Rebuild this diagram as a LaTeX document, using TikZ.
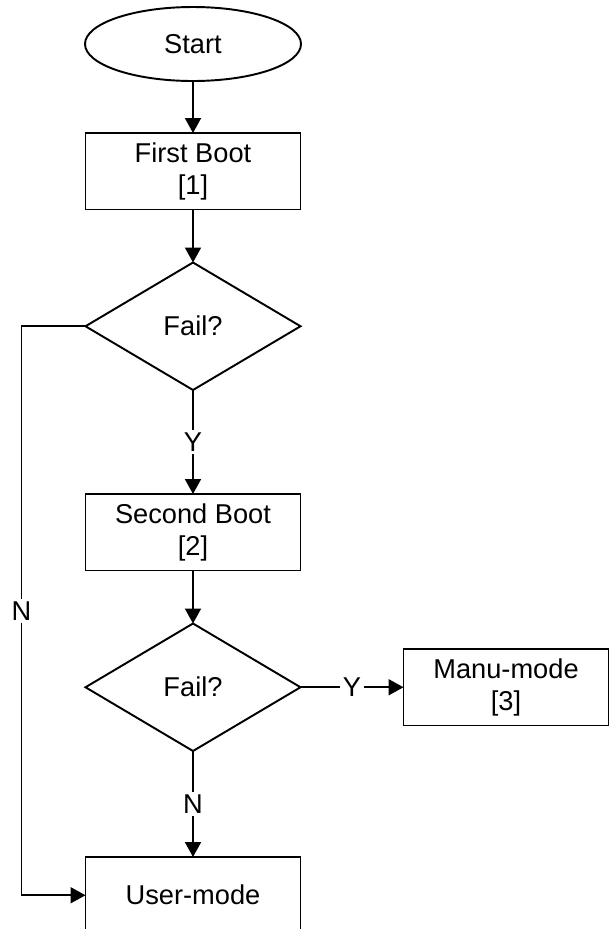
\documentclass[tikz,border=0pt]{standalone}
\usepackage{fontspec}
\setmainfont{Liberation Sans}
\usetikzlibrary{arrows.meta,positioning,shapes.geometric}

\begin{document}
\begin{tikzpicture}[
  node distance = 1.05cm and 2.06cm,
  %% ── start / end terminal ──────────────────────────────────────────────
  T/.style={
    ellipse, draw=black, line width=1.1pt, inner sep=0pt, outer sep=0pt,
    minimum width=4.32cm, minimum height=1.48cm,
    font=\fontsize{15.5}{18}\selectfont
  },
  %% ── process block ─────────────────────────────────────────────────────
  P/.style={
    rectangle, draw=black, line width=1.1pt, inner sep=0pt, outer sep=0pt,
    minimum width=#1, minimum height=1.53cm, align=center,
    font=\fontsize{15.5}{18}\selectfont
  },
  P/.default=4.3cm,
  %% ── decision ──────────────────────────────────────────────────────────
  Q/.style={
    diamond, draw=black, line width=1.1pt, inner sep=0pt, outer sep=0pt,
    aspect=1.67, minimum width=4.3cm, minimum height=2.55cm,
    font=\fontsize{15.5}{18}\selectfont
  },
  %% ── main arrow ────────────────────────────────────────────────────────
  A/.style={-{Triangle[length=0.3cm,width=0.32cm]}, line width=1.1pt},
  %% ── branch label on arrow ─────────────────────────────────────────────
  L/.style={fill=white, inner sep=1.5pt, font=\fontsize{15.5}{18}\selectfont},
]

\clip (0,0) rectangle (12.18,-18.58);

%% ═══════════════════════════════════════════════════════════════════════
%%  MAIN COLUMN  (top → bottom)
%% ═══════════════════════════════════════════════════════════════════════

\node[T] (start) at (3.86,-0.88) {Start};

\node[P, below=1.04cm of start] (boot1) {First Boot\\{[1]}};

\node[Q, below=1.06cm of boot1] (fail1) {Fail?};

\node[P, below=2.08cm of fail1] (boot2) {Second Boot\\{[2]}};

\node[Q, below=1.06cm of boot2] (fail2) {Fail?};

\node[P, below=2.12cm of fail2] (user) {User-mode};

%% manual mode  (right of second decision)
\node[P=4.1cm, right=2.06cm of fail2] (manu) {Manu-mode\\{[3]}};

%% ═══════════════════════════════════════════════════════════════════════
%%  ARROWS
%% ═══════════════════════════════════════════════════════════════════════

\draw[A] (start) -- (boot1);
\draw[A] (boot1) -- (fail1);
\draw[A] (fail1) -- node[L]{Y} (boot2);
\draw[A] (boot2) -- (fail2);
\draw[A] (fail2) -- node[L]{N} (user);
\draw[A] (fail2) -- node[L]{Y} (manu);

%% first boot fine → straight to user mode
\draw[A] (fail1.west) -- ++(-1.28,0) |- node[L,pos=0.25]{N} (user.west);

\end{tikzpicture}
\end{document}
